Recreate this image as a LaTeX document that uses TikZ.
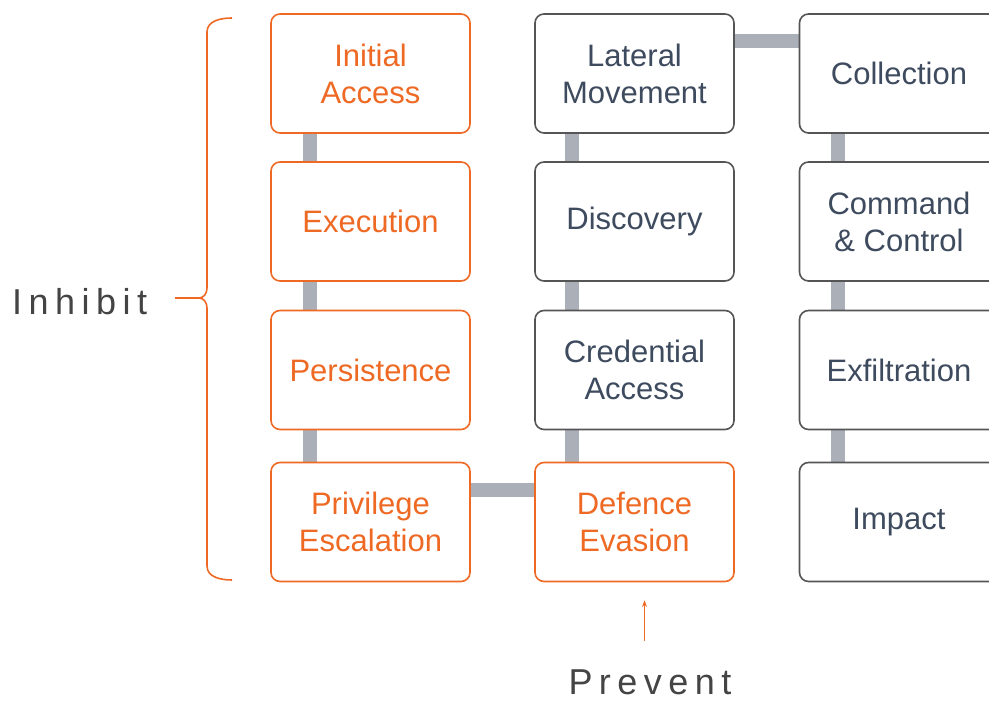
\documentclass[tikz,border=0pt]{standalone}
\usepackage{fontspec}
\setmainfont{Liberation Sans}
\newfontfamily\spacedfont[LetterSpace=18]{Liberation Sans}
\usetikzlibrary{arrows.meta,positioning,backgrounds,calc}
\definecolor{tacticorange}{HTML}{EE6A24}
\definecolor{tacticslate}{HTML}{3E4B5E}
\definecolor{tacticborder}{HTML}{555555}
\definecolor{linkgray}{HTML}{AAAFB8}
\definecolor{labelgray}{HTML}{444444}

\begin{document}
\begin{tikzpicture}[
  x=1pt, y=1pt,
  font=\fontsize{31}{37}\selectfont,
  >=Stealth,
  hottactic/.style={
    draw=tacticorange,
    fill=white,
    rounded corners=9pt,
    line width=1.6pt,
    minimum width=199pt,
    minimum height=119pt,
    align=center,
    text=tacticorange
  },
  coldtactic/.style={
    draw=tacticborder,
    fill=white,
    rounded corners=9pt,
    line width=1.6pt,
    minimum width=199pt,
    minimum height=119pt,
    align=center,
    text=tacticslate
  },
  link/.style={
    draw=linkgray,
    line width=14pt
  },
  sidelabel/.style={
    font=\spacedfont\fontsize{36}{40}\selectfont,
    text=labelgray,
    inner sep=0pt
  }
]
  \useasboundingbox (0,0) rectangle (989,702);
  \clip (0,0) rectangle (989,702);

  % --- LEFT COLUMN ---
  \node[hottactic] (ia) at (370.5,628.5) {Initial\\Access};
  \node[hottactic] (ex) at (370.5,480.5) {Execution};
  \node[hottactic] (ps) at (370.5,332) {Persistence};
  \node[hottactic] (pe) at (370.5,180) {Privilege\\Escalation};

  % --- MIDDLE COLUMN ---
  \node[coldtactic] (lm) at (634.5,628.5) {Lateral\\Movement};
  \node[coldtactic] (dc) at (634.5,480.5) {Discovery};
  \node[coldtactic] (ca) at (634.5,332) {Credential\\Access};
  \node[hottactic] (de) at (634.5,180) {Defence\\Evasion};

  % --- RIGHT COLUMN ---
  \node[coldtactic] (co) at (899,628.5) {Collection};
  \node[coldtactic] (cc) at (899,480.5) {Command\\\& Control};
  \node[coldtactic] (xf) at (899,332) {Exfiltration};
  \node[coldtactic] (im) at (899,180) {Impact};

  % Connecting bars
  \begin{scope}[on background layer]
    \draw[link] ($(ia.south west)+(40,0)$) -- ($(ex.north west)+(40,0)$);
    \draw[link] ($(ex.south west)+(40,0)$) -- ($(ps.north west)+(40,0)$);
    \draw[link] ($(ps.south west)+(40,0)$) -- ($(pe.north west)+(40,0)$);
    \draw[link] ($(pe.north east)+(0,-28)$) -- ($(de.north west)+(0,-28)$);
    \draw[link] ($(de.north west)+(38,0)$) -- ($(ca.south west)+(38,0)$);
    \draw[link] ($(ca.north west)+(38,0)$) -- ($(dc.south west)+(38,0)$);
    \draw[link] ($(dc.north west)+(38,0)$) -- ($(lm.south west)+(38,0)$);
    \draw[link] ($(lm.north east)+(0,-28)$) -- ($(co.north west)+(0,-28)$);
    \draw[link] ($(co.south west)+(39,0)$) -- ($(cc.north west)+(39,0)$);
    \draw[link] ($(cc.south west)+(39,0)$) -- ($(xf.north west)+(39,0)$);
    \draw[link] ($(xf.south west)+(39,0)$) -- ($(im.north west)+(39,0)$);
  \end{scope}

  % Inhibit brace
  \node[sidelabel, anchor=west] (inh) at (12,400) {Inhibit};
  \coordinate (bracetip) at (199,404);
  \draw[tacticorange, line width=1.6pt]
    (232,684) to[out=180,in=90] (207,670) -- (207,414)
    to[out=-90,in=0] (bracetip) to[out=0,in=90] (207,394)
    -- (207,136) to[out=-90,in=180] (232,122);
  \draw[tacticorange, line width=1.6pt] (175,404) -- (bracetip);

  % Prevent label
  \node[sidelabel] (pv) at (650,20) {Prevent};
  \draw[->, tacticorange, line width=0.8pt]
    ($(pv.north -| de.south)+(10,28)$) -- ($(de.south)+(10,-18)$);

\end{tikzpicture}
\end{document}
